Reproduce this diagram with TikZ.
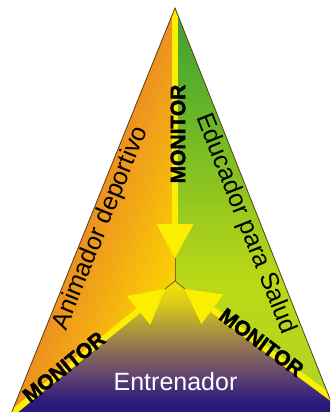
\documentclass[tikz,border=0pt]{standalone}
\usepackage{fontspec}
\setsansfont{Liberation Sans}
\newfontfamily\heavyfont[FakeBold=2]{Liberation Sans Bold}
\usepackage{xcolor}
\usetikzlibrary{arrows.meta}
\definecolor{animorange}{RGB}{236,145,32}
\definecolor{animmid}{RGB}{244,174,16}
\definecolor{animyellow}{RGB}{252,212,0}
\definecolor{salud1}{RGB}{60,158,52}
\definecolor{salud2}{RGB}{105,182,40}
\definecolor{salud3}{RGB}{150,200,30}
\definecolor{salud4}{RGB}{188,216,22}
\definecolor{salud5}{RGB}{178,212,35}
\definecolor{coach1}{RGB}{245,232,0}
\definecolor{coach2}{RGB}{215,200,25}
\definecolor{coach3}{RGB}{175,152,58}
\definecolor{coach4}{RGB}{140,110,85}
\definecolor{coach5}{RGB}{100,70,112}
\definecolor{coach6}{RGB}{45,28,125}
\definecolor{coach7}{RGB}{35,22,118}
\definecolor{bandyellow}{RGB}{252,238,0}
\definecolor{edgebrown}{RGB}{90,60,25}
\definecolor{hubbrown}{RGB}{125,105,40}
\pgfdeclareverticalshading{saludshade}{100bp}{color(0bp)=(salud5); color(25bp)=(salud5); color(40bp)=(salud4); color(50bp)=(salud3); color(61bp)=(salud2); color(75bp)=(salud1); color(100bp)=(salud1)}
\pgfdeclareverticalshading{coachshade}{100bp}{color(0bp)=(coach7); color(25bp)=(coach7); color(30bp)=(coach6); color(40bp)=(coach5); color(49bp)=(coach4); color(57bp)=(coach3); color(66bp)=(coach2); color(75bp)=(coach1); color(100bp)=(coach1)}
\begin{document}
\begin{tikzpicture}[
    x=1pt, y=-1pt,
    font=\sffamily,
    % Define styles
    band/.style = {line width=6pt, draw=bandyellow, -{Triangle[length=34pt, width=37pt, line width=0pt]}},
    hubline/.style = {line width=0.9pt, draw=hubbrown},
    edgeline/.style = {line width=0.8pt, draw=edgebrown},
    sidelabel/.style = {font=\fontsize{25}{25}\selectfont\sffamily, inner sep=1pt, text=black},
    monitor/.style = {font=\fontsize{21}{21}\selectfont\heavyfont, inner sep=0pt, text=black}
]
\useasboundingbox (0,0) rectangle (330,412);
\clip (0,0) rectangle (330,412);

% Corners
\coordinate (apex) at (175,8);
\coordinate (leftcorner) at (11,414);
\coordinate (rightcorner) at (336,414);
\coordinate (hub) at (175,281);
\coordinate (rightend) at (345,408);
\coordinate (toptip) at (175,258);
\coordinate (lefttip) at (165,289);
\coordinate (righttip) at (185,289);

% Regions
\begin{scope}
  \clip (apex) -- (leftcorner) -- (rightcorner) -- cycle;
  \begin{scope}
    \clip (apex) -- (leftcorner) -- (hub) -- cycle;
    \begin{scope}[transform canvas={shift={(175,8)}, rotate=-22}]
      \shade[left color=animorange, middle color=animmid, right color=animyellow] (0,-10) rectangle (104,450);
    \end{scope}
  \end{scope}
  \begin{scope}
    \clip (apex) -- (hub) -- (rightend) -- (345,0) -- cycle;
    \shade[shading=saludshade] (175,8) rectangle (345,400);
  \end{scope}
  \begin{scope}
    \clip (leftcorner) -- (hub) -- (rightend) -- (345,420) -- (0,420) -- cycle;
    \shade[shading=coachshade] (0,281) rectangle (345,414);
  \end{scope}

  % Arrows
  \draw[hubline] (hub) -- (toptip);
  \draw[hubline] (hub) -- (lefttip);
  \draw[hubline] (hub) -- (righttip);
  \draw[band] (apex) -- (toptip);
  \draw[band] (leftcorner) -- (lefttip);
  \draw[band] (rightend) -- (righttip);
\end{scope}
\draw[edgeline] (leftcorner) -- (apex) -- (rightcorner);

% Labels
\path (leftcorner) -- (apex) node[sidelabel, pos=0.47, sloped, below=1pt] (animador) {Animador deportivo};
\path (apex) -- (rightcorner) node[sidelabel, pos=0.52, sloped, below=1pt] (educador) {Educador para Salud};
\node[monitor, rotate=90] (montop) at (178,134) {MONITOR};
\path (leftcorner) -- (hub) node[monitor, pos=0.335, sloped, above=-4.5pt] (monleft) {MONITOR};
\path (hub) -- (rightend) node[monitor, pos=0.5, sloped, above=-5pt] (monright) {MONITOR};
\node[sidelabel, text=white, anchor=base] (entrenador) at (175.5,390) {Entrenador};

\end{tikzpicture}
\end{document}
